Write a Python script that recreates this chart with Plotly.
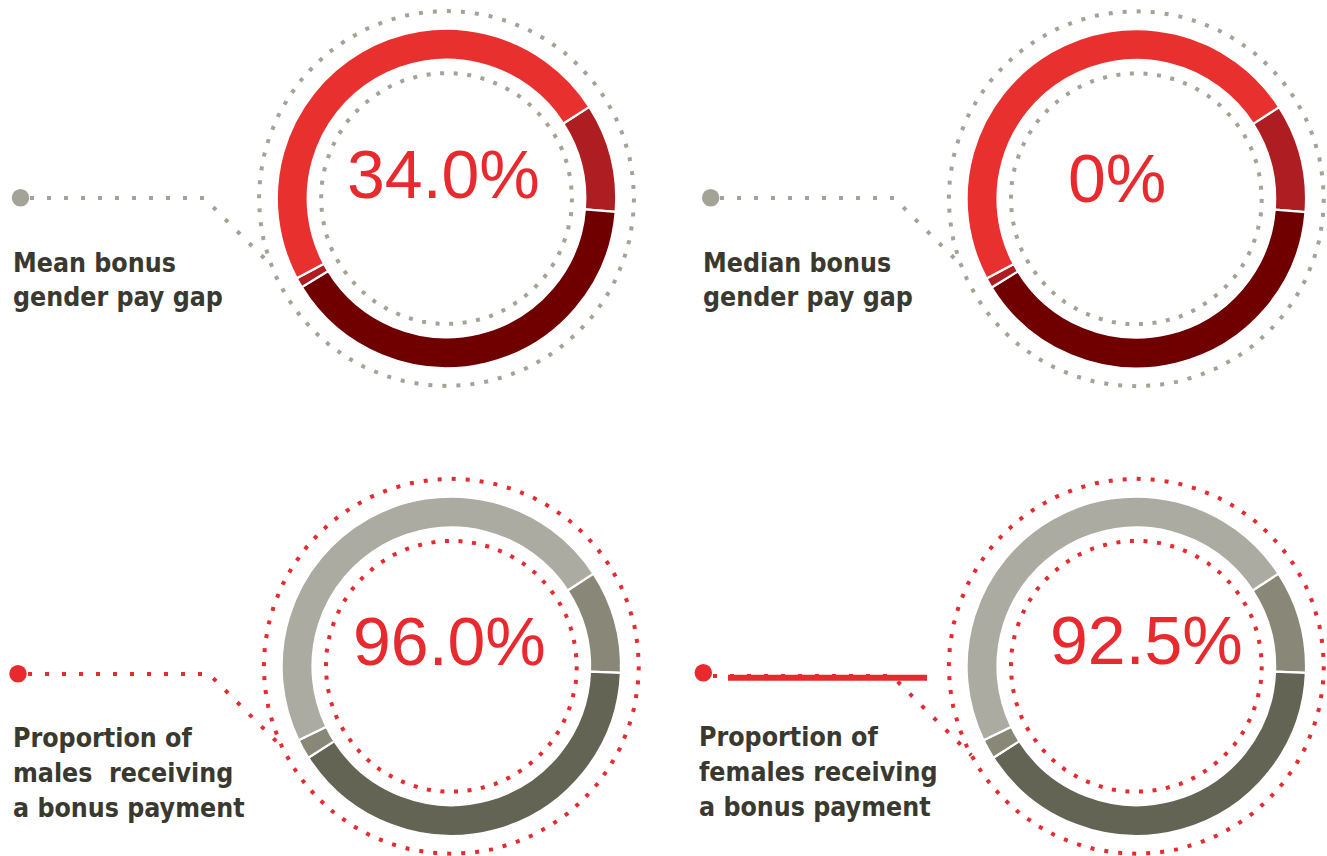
import numpy as np
import plotly.graph_objects as go

W, H = 1327, 856

# ---------------- data ----------------
headline_values = ["34.0%", "0%", "96.0%", "92.5%"]
label_lines = [
    ["Mean bonus", "gender pay gap"],
    ["Median bonus", "gender pay gap"],
    ["Proportion of", "males\u00a0 receiving", "a bonus payment"],
    ["Proportion of", "females receiving", "a bonus payment"],
]
segment_names = ["Segment A", "Segment B", "Segment C", "Segment D"]
ring_shares_top = [37.2, 144.0, 3.5, 175.3]      # degrees of ring, clockwise
ring_shares_bottom = [35.3, 145.2, 6.8, 172.7]
ring_start_top = 57.3
ring_start_bottom = 56.9

# ---------------- styling / layout ----------------
RED = "#E8292E"
GREY_DOT = "#A3A398"
TEXT_DARK = "#3A392F"
reds = ["#AD1D21", "#700000", "#AD1D21", "#E8302F"]
greys = ["#898878", "#636454", "#898878", "#ABABA1"]

panels = [
    dict(cx=446.5, cy=198.5, shares=ring_shares_top, rot=ring_start_top, colors=reds,
         dot_color=GREY_DOT, lead=(20.5, 197.7, 30, 204, 198), tx=443.5, ty=173.5,
         lx=11, ly=[262, 296.5], solid=None),
    dict(cx=1136.3, cy=198.8, shares=ring_shares_top, rot=ring_start_top, colors=reds,
         dot_color=GREY_DOT, lead=(710.7, 197.7, 720, 894, 198), tx=1117, ty=177.5,
         lx=701, ly=[262, 296.5], solid=None),
    dict(cx=451.3, cy=666.3, shares=ring_shares_bottom, rot=ring_start_bottom, colors=greys,
         dot_color=RED, lead=(18, 673.8, 28, 209, 674), tx=449.7, ty=641,
         lx=11, ly=[737, 772, 807], solid=None),
    dict(cx=1136.3, cy=666.3, shares=ring_shares_bottom, rot=ring_start_bottom, colors=greys,
         dot_color=RED, lead=(703.3, 672.7, 713, 892, 676), tx=1146.7, ty=640,
         lx=697, ly=[736, 771, 806], solid=(728, 927, 677.7)),
]

R_OUT = 169.7
HOLE = 0.818
R_DOT_OUT = 187.5
R_DOT_IN = 125.5

fig = go.Figure()
annotations = []


def dotted_circle(cx, cy, r, color, spacing=14.0, dot=4.0):
    n = int(round(2 * np.pi * r / spacing))
    t = np.linspace(0, 2 * np.pi, 721)
    per = 2 * np.pi * r / n
    return go.Scatter(
        x=cx + r * np.cos(t), y=cy + r * np.sin(t), mode="lines",
        line=dict(color=color, width=dot, dash=f"{dot}px,{per - dot:.3f}px"),
        hoverinfo="skip", showlegend=False)


for i, p in enumerate(panels):
    cx, cy = p["cx"], p["cy"]
    # donut
    fig.add_trace(go.Pie(
        values=p["shares"], labels=segment_names, sort=False, direction="clockwise",
        rotation=p["rot"], hole=HOLE, textinfo="none", hoverinfo="skip",
        marker=dict(colors=p["colors"], line=dict(color="white", width=2.2)),
        domain=dict(x=[(cx - R_OUT) / W, (cx + R_OUT) / W],
                    y=[1 - (cy + R_OUT) / H, 1 - (cy - R_OUT) / H]),
        showlegend=False))
    # dotted rings
    fig.add_trace(dotted_circle(cx, cy, R_DOT_OUT, p["dot_color"]))
    fig.add_trace(dotted_circle(cx, cy, R_DOT_IN, p["dot_color"], spacing=13.5))
    # leader
    dx, dy, x0, x1, yl = p["lead"]
    a = 2.0
    b = 2 * ((x1 - cx) + (yl - cy))
    c = (x1 - cx) ** 2 + (yl - cy) ** 2 - R_DOT_OUT ** 2
    tt = (-b - np.sqrt(b * b - 4 * a * c)) / (2 * a)
    fig.add_trace(go.Scatter(
        x=[x0, x1, x1 + tt], y=[yl, yl, yl + tt], mode="lines",
        line=dict(color=p["dot_color"], width=4, dash="4px,13px"),
        hoverinfo="skip", showlegend=False))
    if p["solid"]:
        sx0, sx1, sy = p["solid"]
        fig.add_trace(go.Scatter(x=[sx0, sx1], y=[sy, sy], mode="lines",
                                 line=dict(color=RED, width=6), hoverinfo="skip",
                                 showlegend=False))
    fig.add_trace(go.Scatter(x=[dx], y=[dy], mode="markers",
                             marker=dict(size=17.5, color=p["dot_color"]),
                             hoverinfo="skip", showlegend=False))
    # value text
    annotations.append(dict(x=p["tx"], y=p["ty"], xref="x", yref="y",
                            text=headline_values[i], showarrow=False,
                            xanchor="center", yanchor="middle",
                            font=dict(family="Liberation Sans, Arial", size=68, color=RED)))
    for line, ly in zip(label_lines[i], p["ly"]):
        annotations.append(dict(x=p["lx"], y=ly, xref="x", yref="y", text=f"<b>{line}</b>",
                                showarrow=False, xanchor="left", yanchor="middle",
                                font=dict(family="DejaVu Sans Condensed, DejaVu Sans",
                                          size=26.5, color=TEXT_DARK)))

fig.update_layout(
    width=W, height=H, margin=dict(l=0, r=0, t=0, b=0),
    paper_bgcolor="white", plot_bgcolor="white",
    xaxis=dict(range=[0, W], visible=False, fixedrange=True),
    yaxis=dict(range=[H, 0], visible=False, fixedrange=True),
    annotations=annotations, showlegend=False,
)

fig.write_html("out.html", config={"displayModeBar": False},
               post_script="document.body.style.margin='0';")
